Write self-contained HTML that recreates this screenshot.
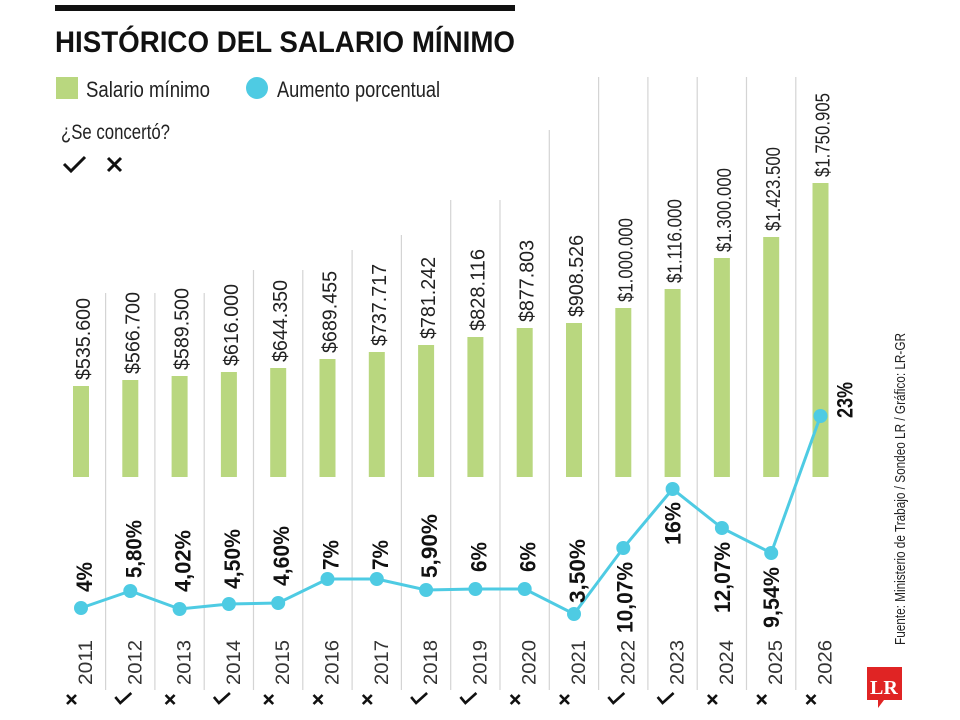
<!DOCTYPE html>
<html><head><meta charset="utf-8"><style>
html,body{margin:0;padding:0;background:#fff;}
svg{display:block;}
text{font-family:"Liberation Sans",sans-serif;}
</style></head><body>
<svg width="960" height="720" viewBox="0 0 960 720" xmlns="http://www.w3.org/2000/svg">
<rect x="55" y="5" width="460" height="6" fill="#111"/>
<text x="55" y="52" font-size="30" font-weight="bold" fill="#111" textLength="460" lengthAdjust="spacingAndGlyphs">HISTÓRICO DEL SALARIO MÍNIMO</text>
<rect x="56" y="77" width="22" height="22" fill="#b9d77f"/>
<text x="86" y="97" font-size="22" fill="#222" textLength="124" lengthAdjust="spacingAndGlyphs">Salario mínimo</text>
<circle cx="257" cy="88" r="11" fill="#4ecbe3"/>
<text x="277" y="97" font-size="22" fill="#222" textLength="163" lengthAdjust="spacingAndGlyphs">Aumento porcentual</text>
<text x="61" y="139" font-size="21" fill="#222" textLength="109" lengthAdjust="spacingAndGlyphs">¿Se concertó?</text>
<polyline points="64,164 71,171 85,157" fill="none" stroke="#111" stroke-width="3"/>
<path d="M108,158 L121,171 M121,158 L108,171" stroke="#111" stroke-width="3"/>
<g id="chart"></g>
<g transform="translate(905,645) rotate(-90)"><text x="0" y="0" font-size="15" fill="#222" textLength="312" lengthAdjust="spacingAndGlyphs">Fuente: Ministerio de Trabajo / Sondeo LR / Gráfico: LR-GR</text></g>
<path d="M867,667 h35 v33 h-18 l-6,8 v-8 h-11 z" fill="#e02424"/>
<text x="870" y="694" font-size="20" font-weight="bold" fill="#fff" style="font-family:'Liberation Serif',serif">LR</text>
</svg>
<script>
var NS="http://www.w3.org/2000/svg",g=document.getElementById("chart");
function el(t,a,txt){var e=document.createElementNS(NS,t);for(var k in a)e.setAttribute(k,a[k]);if(txt!=null)e.textContent=txt;g.appendChild(e);return e;}
var years=[2011,2012,2013,2014,2015,2016,2017,2018,2019,2020,2021,2022,2023,2024,2025,2026];
var vals=["$535.600","$566.700","$589.500","$616.000","$644.350","$689.455","$737.717","$781.242","$828.116","$877.803","$908.526","$1.000.000","$1.116.000","$1.300.000","$1.423.500","$1.750.905"];
var tops=[386,380,376,372,368,359,352,345,337,328,323,308,289,258,237,183];
var py=[608,591,609,604,603,579,579,590,589,589,614,548,489,528,553,416];
var sepTop=[293,293,293,270,270,250,235,200,200,130,77,77,77,77,77];
var pct=[["4%",592,11,30],["5,80%",578,11,58],["4,02%",592,11,62],["4,50%",589,11,60],["4,60%",586,11,60],["7%",570,11,30],["7%",570,11,30],["5,90%",578,11,64],["6%",572,11,30],["6%",572,11,30],["3,50%",603,11,64],["10,07%",633,9,71],["16%",545,8,43],["12,07%",613,8,71],["9,54%",628,8,61],["23%",418,32,36]];
var ok=[0,1,0,1,0,0,0,1,1,0,0,1,1,0,0,0];
var cx=years.map(function(y,i){return 81+i*49.3;});
sepTop.forEach(function(t,i){var x=cx[i]+24.6;el("line",{x1:x,y1:t,x2:x,y2:690,stroke:"#d4d4d4","stroke-width":1.2});});
years.forEach(function(y,i){
 var c=cx[i];
 el("rect",{x:c-8,y:tops[i],width:16,height:477-tops[i],fill:"#b9d77f"});
 var v=vals[i];
 el("text",{transform:"translate("+(c+9)+","+(tops[i]-6)+") rotate(-90)","font-size":20,fill:"#222",textLength:v.length>8?84:82,lengthAdjust:"spacingAndGlyphs"},v);
 el("text",{transform:"translate("+(c+11)+",685) rotate(-90)","font-size":19,fill:"#333",textLength:45,lengthAdjust:"spacingAndGlyphs"},String(y));
 var m=ok[i],my=700;
 if(m) el("polyline",{points:(c-15)+","+(my-3)+" "+(c-10)+","+(my+3)+" "+(c+1)+","+(my-7),fill:"none",stroke:"#111","stroke-width":2.6});
 else el("path",{d:"M"+(c-14)+","+(my-5)+" l9,9 m0,-9 l-9,9",stroke:"#111","stroke-width":2.6});
});
el("polyline",{points:cx.map(function(x,i){return x+","+py[i];}).join(" "),fill:"none",stroke:"#4ecbe3","stroke-width":3});
cx.forEach(function(x,i){el("circle",{cx:x,cy:py[i],r:7,fill:"#4ecbe3"});
 var p=pct[i];
 el("text",{transform:"translate("+(x+p[2])+","+p[1]+") rotate(-90)","font-size":22,"font-weight":"bold",fill:"#111",textLength:p[3],lengthAdjust:"spacingAndGlyphs"},p[0]);
});
</script>
</body></html>
